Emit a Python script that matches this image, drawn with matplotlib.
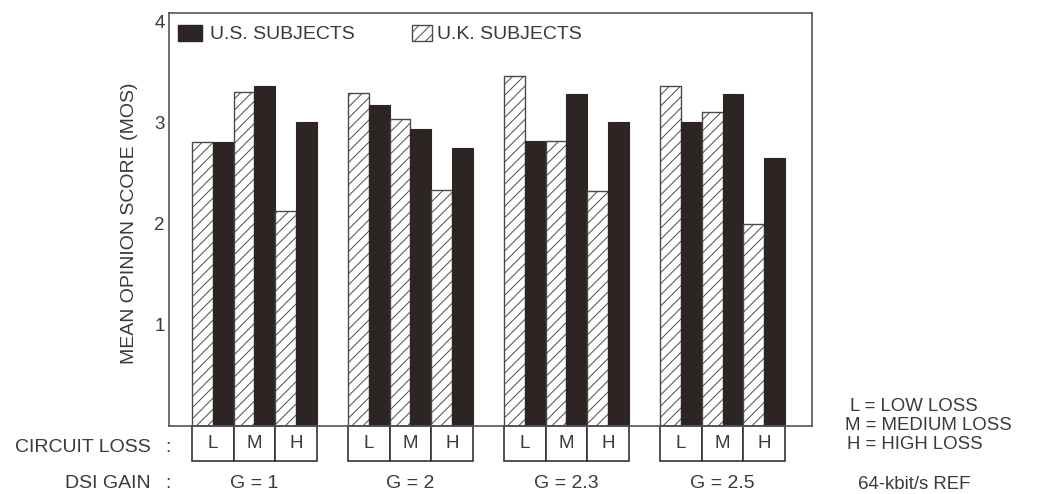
import matplotlib
matplotlib.use("Agg")
import matplotlib.pyplot as plt
import matplotlib.transforms as mtransforms
from matplotlib.patches import Rectangle

plt.rcParams['font.family'] = ['Liberation Sans', 'DejaVu Sans']
plt.rcParams['hatch.linewidth'] = 0.7

# data
gains = ['G = 1', 'G = 2', 'G = 2.3', 'G = 2.5']
losses = ['L', 'M', 'H']
uk_mos = [[2.81, 3.30, 2.12],
          [3.29, 3.03, 2.33],
          [3.46, 2.82, 2.32],
          [3.36, 3.10, 2.00]]
us_mos = [[2.81, 3.36, 3.00],
          [3.17, 2.93, 2.75],
          [2.82, 3.28, 3.00],
          [3.00, 3.28, 2.65]]
yticks = [1, 2, 3, 4]

txt = '#3a3a3a'
dark = '#2d2523'
edge = '#4a4a4a'
fs = 14

W, H = 1042, 494
fig = plt.figure(figsize=(W / 100, H / 100), dpi=100)
ax = fig.add_axes([169 / W, (H - 426) / H, (812 - 169) / W, (426 - 13) / H])

group_step = 7.5
first_left = 1.1
for g in range(len(gains)):
    left = first_left + g * group_step
    for k in range(len(losses)):
        ax.bar(left + 2 * k, uk_mos[g][k], width=1, align='edge',
               color='white', edgecolor=edge, hatch='///', linewidth=1.0)
        ax.bar(left + 2 * k + 1, us_mos[g][k], width=1, align='edge',
               color=dark, edgecolor=dark, linewidth=0.8)

ax.set_xlim(0, 30.9)
ax.set_ylim(0, 4.08)
ax.set_xticks([])
ax.set_yticks(yticks)
ax.set_yticklabels([str(t) for t in yticks])
ax.tick_params(axis='y', length=0, pad=3, labelsize=13.5, labelcolor=txt)
for s in ax.spines.values():
    s.set_color('#555555')
    s.set_linewidth(1.2)

fig.text(130 / W, 1 - 223 / H, 'MEAN OPINION SCORE (MOS)', rotation=90,
         ha='center', va='center', fontsize=fs, color=txt)

# legend drawn by hand
ax.add_patch(Rectangle((0.014, 0.932), 0.0373, 0.0387, transform=ax.transAxes,
                       facecolor=dark, edgecolor=dark))
ax.text(0.0638, 0.949, 'U.S. SUBJECTS', transform=ax.transAxes,
        ha='left', va='center', fontsize=fs, color=txt)
ax.add_patch(Rectangle((0.378, 0.932), 0.031, 0.0387, transform=ax.transAxes,
                       facecolor='white', edgecolor=edge, hatch='///', linewidth=1.0))
ax.text(0.417, 0.949, 'U.K. SUBJECTS', transform=ax.transAxes,
        ha='left', va='center', fontsize=fs, color=txt)

# circuit loss boxes under each group
trans = mtransforms.blended_transform_factory(ax.transData, ax.transAxes)
box_h = 35 / 413
for g in range(len(gains)):
    left = first_left + g * group_step
    for k, lab in enumerate(losses):
        ax.add_patch(Rectangle((left + 2 * k, -box_h), 2, box_h, transform=trans,
                               facecolor='white', edgecolor='#333333',
                               linewidth=1.2, clip_on=False))
        ax.text(left + 2 * k + 1, -box_h / 2, lab, transform=trans,
                ha='center', va='center', fontsize=13.5, color=txt)
    ax.text(left + 3, (426 - 483) / 413, gains[g], transform=trans,
            ha='center', va='center', fontsize=fs, color=txt)

fig.text(151 / W, 1 - 447 / H, 'CIRCUIT LOSS', ha='right', va='center',
         fontsize=fs, color=txt)
fig.text(168 / W, 1 - 447 / H, ':', ha='center', va='center', fontsize=fs, color=txt)
fig.text(151 / W, 1 - 483 / H, 'DSI GAIN', ha='right', va='center',
         fontsize=fs, color=txt)
fig.text(168 / W, 1 - 483 / H, ':', ha='center', va='center', fontsize=fs, color=txt)

fig.text(850 / W, 1 - 406 / H, 'L = LOW LOSS', ha='left', va='center',
         fontsize=13.4, color=txt)
fig.text(845 / W, 1 - 425 / H, 'M = MEDIUM LOSS', ha='left', va='center',
         fontsize=13.4, color=txt)
fig.text(847 / W, 1 - 444 / H, 'H = HIGH LOSS', ha='left', va='center',
         fontsize=13.4, color=txt)
fig.text(914 / W, 1 - 484 / H, '64-kbit/s REF', ha='center', va='center',
         fontsize=13.4, color=txt)

fig.savefig('out.png', dpi=100)
